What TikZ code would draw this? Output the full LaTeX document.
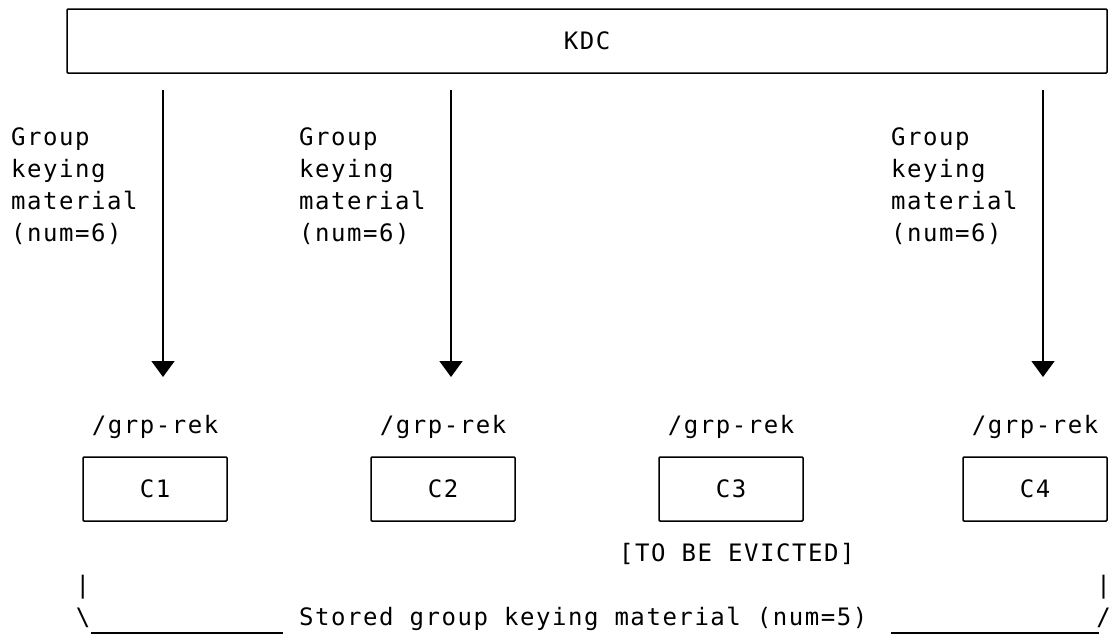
\documentclass[tikz,border=0pt]{standalone}
\usepackage{fontspec}
\setmonofont[LetterSpace=6.46]{DejaVu Sans Mono}
\usetikzlibrary{arrows.meta}
\tikzset{
txt/.style={font=\fontsize{24}{32}\selectfont\ttfamily, inner sep=0pt},
box/.style={draw, line width=1.5pt, rounded corners=1pt, minimum height=64pt, inner sep=0pt},
arr/.style={line width=1.6pt, -{Triangle[width=23pt,length=16pt]}},
uline/.style={line width=1.5pt}
}
\newcommand{\client}[2]{
\node[box, txt, minimum width=144pt] (c#1) at (#2,15) {C#1};
\node[txt, anchor=base] (r#1) at (#2,13.27) {/grp-rek};}

\begin{document}
\begin{tikzpicture}[x=16pt,y=-32pt]
\useasboundingbox (-1.1875,-0.28125) rectangle (68.25,19.5625);
% KDC
\node[box, txt, minimum width=1040pt] (kdc) at (35.5,1) {KDC};
% clients
\client{1}{8.5}
\client{2}{26.5}
\client{3}{44.5}
\client{4}{63.5}
\node[txt, anchor=base west] (evict) at (37.5,17.27) {[TO BE EVICTED]};
% messages from the KDC
\foreach \c/\n in {9/1,27/2,64/4}{
\coordinate (t\n) at (\c,11.5);
\draw[arr, shorten <=16pt] (kdc.south -| t\n) -- (t\n);
\foreach \w [count=\i] in {Group,keying,material,(num=6)}
\node[txt, anchor=base west] (g\n-\i) at (\c-9.5,3.27+\i) {\w};
}
% stored material
\node[txt, anchor=base east] (bar1) at (4.45,18.27) {|};
\node[txt, anchor=base east] (bar2) at (68.25,18.27) {|};
\node[txt, anchor=base] (bsl) at (4,19.27) {\textbackslash};
\node[txt, anchor=base east] (fsl) at (68.25,19.27) {/};
\node[txt, anchor=base west] (stored) at (17.5,19.27) {Stored group keying material (num=5)};
\draw[uline] (4.5,19.5) -- (16.5,19.5);
\draw[uline] (54.5,19.5) -- (67.5,19.5);
\end{tikzpicture}
\end{document}
